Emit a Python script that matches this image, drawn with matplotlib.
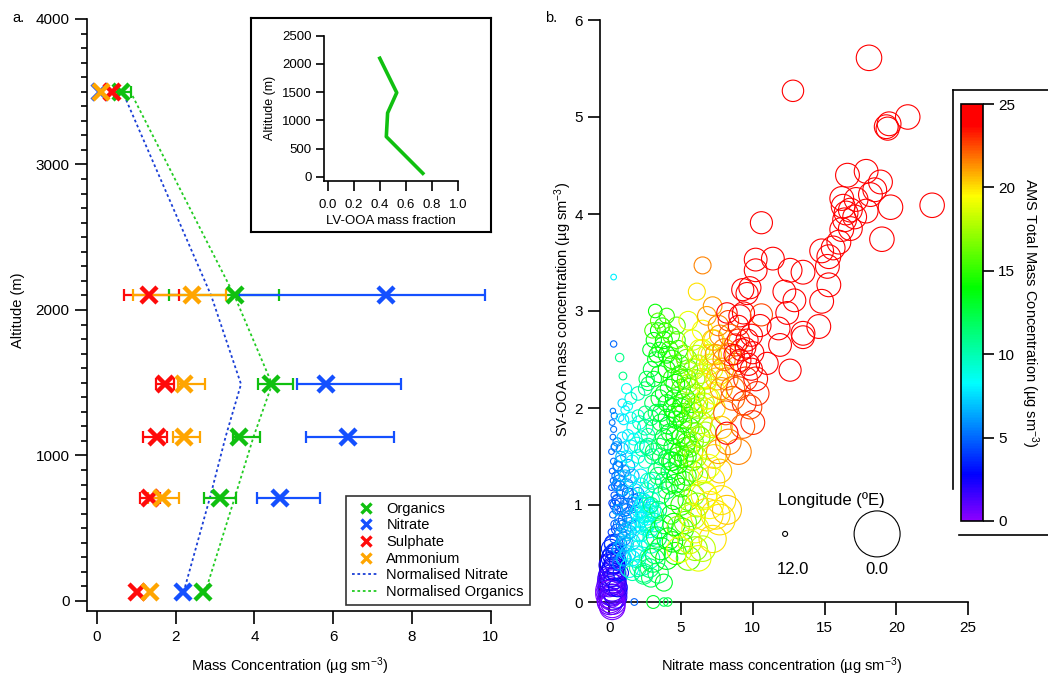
import numpy as np
import matplotlib
matplotlib.use('Agg')
import matplotlib.pyplot as plt
from matplotlib.colors import LinearSegmentedColormap, Normalize
from matplotlib.cm import ScalarMappable
from matplotlib.lines import Line2D

plt.rcParams['font.family'] = ['Liberation Sans', 'DejaVu Sans']
plt.rcParams['mathtext.default'] = 'regular'

W, H = 1048, 675

# ---- panel a: vertical profiles ----
alt = [60, 710, 1130, 1490, 2100, 3500]
organics = [2.70, 3.12, 3.60, 4.42, 3.51, 0.62]
organics_lo = [None, 2.72, 3.46, 4.10, 1.84, 0.42]
organics_hi = [None, 3.53, 4.14, 4.98, 4.62, 0.87]
nitrate = [2.18, 4.65, 6.38, 5.83, 7.35, 0.08]
nitrate_lo = [None, 4.06, 5.30, 5.07, 3.60, None]
nitrate_hi = [None, 5.66, 7.56, 7.73, 9.86, None]
sulphate = [1.02, 1.35, 1.52, 1.72, 1.33, 0.37]
sulphate_lo = [None, 1.10, 1.17, 1.51, 0.68, None]
sulphate_hi = [None, 1.60, 1.79, 1.95, 2.09, None]
ammonium = [1.34, 1.65, 2.22, 2.22, 2.41, 0.09]
ammonium_lo = [None, 1.30, 1.92, 2.05, 0.92, None]
ammonium_hi = [None, 2.09, 2.62, 2.75, 3.28, None]
norm_nitrate = [2.20, 2.87, 3.27, 3.66, 2.90, 0.65]
norm_organics = [2.75, 3.50, 3.98, 4.45, 3.49, 0.85]

# inset: LV-OOA fraction
lv_alt = [60, 710, 1130, 1490, 2100]
lv_frac = [0.73, 0.45, 0.46, 0.53, 0.40]

# ---- panel b: SV-OOA vs nitrate, coloured by AMS total, sized by longitude ----
nitrate_b = [
    # near origin
    0.05, 0.15, 0.25, 0.35, 0.10, 0.20, 0.30, 0.00, 0.15, 0.40,
    0.25, 0.10, 0.30, 0.45, 0.20,
    0.05, 0.15, 0.25, 0.10, 0.30, 0.00, 0.20, 0.40, 0.10, 0.25,
    0.05, 0.35, 0.15, 0.50, 0.60, 0.45, 0.20, 0.00, 0.30, 0.20,
    0.10, 0.60, 0.80, 0.35, 0.20,
    # blue fringe
    0.4, 0.6, 0.8, 1.0, 1.2, 0.5, 0.7, 0.9, 1.1, 1.4,
    0.4, 0.6, 0.8, 1.0, 1.3, 0.5, 0.7, 0.9, 1.2, 1.5,
    0.6, 0.8, 1.0, 1.3, 1.6, 0.5, 0.9, 1.8, 2.1, 1.4,
    # low-nitrate column
    0.20, 0.30, 0.15, 0.40, 0.25, 0.50, 0.20, 0.35, 0.15, 0.30,
    0.45, 0.20, 0.30, 0.15, 0.35, 0.25, 0.30, 0.20, 0.35, 0.25,
    0.55, 0.60, 0.70, 0.50, 0.30, 0.72, 0.95, 0.30, 1.74, 0.90,
    1.10, 0.75, 1.30,
    # cyan
    0.7, 1.0, 1.4, 1.9, 2.3, 2.8, 1.2, 1.6, 2.0, 2.5,
    3.0, 0.8, 1.2, 1.5, 1.9, 2.3, 2.6, 2.8, 2.4, 1.7,
    1.3, 2.0, 0.9, 0.7, 1.1, 1.5, 2.2, 2.7, 3.2, 0.8,
    1.2, 1.6, 2.0, 2.5, 3.0, 0.9, 1.3, 1.7, 2.2, 2.7,
    1.0, 1.5, 2.0, 0.5, 0.6, 1.0, 2.1, 2.6, 3.2, 2.9,
    2.2, 2.4, 2.6, 2.8, 3.0, 2.3, 2.5, 2.7, 2.9, 2.1,
    2.4, 2.6, 2.8, 2.2, 3.1,
    # teal
    1.6, 2.0, 2.4, 2.8, 3.2, 1.8, 2.2, 2.6, 3.0, 3.4,
    1.5, 1.9, 2.3, 2.7, 3.1, 1.7, 2.1, 2.5, 2.9, 3.3,
    1.5, 2.0, 2.5, 3.5, 1.2,
    2.6, 2.9, 3.2, 3.5, 3.8, 2.8, 3.1, 3.4, 3.7, 4.0,
    4.3, 4.8, 5.3, 5.8, 6.3, 4.6, 5.1, 5.6, 6.1, 6.6,
    4.4, 4.9, 5.4, 5.9, 6.4, 0.7, 1.0, 1.3, 1.6, 1.9,
    0.8, 1.1, 1.4, 1.7, 2.0, 6.9, 7.3, 7.7, 6.7, 7.1,
    # green
    3.05, 3.3, 3.6, 4.0, 4.4, 5.1, 3.8, 4.3, 3.4, 3.6,
    4.0, 4.5, 5.0, 5.5, 3.3, 3.7, 4.2, 4.7, 5.2, 3.5,
    3.9, 4.4, 4.9, 5.4, 3.1, 3.6, 4.1, 4.6, 5.1, 5.6,
    6.0, 3.0, 3.5, 4.0, 4.5, 5.0, 5.3, 5.7, 3.1, 3.5,
    4.0, 4.4, 4.9, 3.3, 3.7, 4.2, 4.7, 3.0, 3.4, 2.6,
    2.5, 2.7, 2.9, 2.4, 2.9, 3.8, 3.06, 3.8, 4.07, 5.3,
    5.8, 6.2, 5.9, 5.0, 5.5, 3.2, 5.3, 4.8,
    3.8, 4.2, 4.6, 5.0, 5.4, 5.8, 3.6, 4.0, 4.4, 4.8,
    5.2, 5.6, 3.8, 4.2, 4.6, 5.0, 5.4, 5.8, 3.6, 4.0,
    4.4, 4.8, 5.2, 5.6, 3.8, 4.2, 4.6, 5.0, 5.4, 4.0,
    4.4, 4.8, 5.2, 3.9, 4.3, 4.7, 4.5, 5.1, 5.6, 6.1,
    4.1, 4.6, 5.5, 6.0, 3.4,
    # yellow
    5.8, 6.2, 6.6, 7.0, 7.4, 6.0, 6.4, 6.8, 7.2, 7.6,
    5.9, 6.3, 6.7, 7.1, 6.1, 6.5, 6.9, 7.3, 6.6, 7.0,
    7.4, 7.8, 8.2, 7.2, 6.2,
    6.8, 7.7, 6.5, 6.0, 5.8, 4.9, 6.5, 7.1, 6.9, 6.4,
    6.8, 7.3, 7.5, 7.0, 6.3, 5.8, 6.5, 6.1, 5.5, 7.8,
    6.6, 7.6, 5.5, 6.0, 6.2, 6.0, 7.2, 5.6,
    # orange
    7.8, 8.2, 8.6, 9.0, 9.4, 8.0, 8.4, 8.8, 9.2, 9.6,
    7.7, 8.3, 9.1, 9.9, 10.2,
    6.5, 8.1, 8.6, 9.3, 9.8, 10.3, 8.8, 8.0, 7.6, 8.4,
    9.0, 7.9, 8.3, 9.0, 7.4, 10.6, 6.8, 7.2, 9.5, 10.0,
    # red
    8.2, 9.1, 10.0, 11.0, 9.5, 8.7, 9.9, 8.2, 9.0, 10.5,
    9.7,
    18.1, 12.8, 19.3, 19.5, 19.4, 20.8, 16.6, 17.9, 18.9, 18.5,
    18.2, 22.5, 16.2, 16.3, 16.8, 17.9, 17.1, 16.4, 16.8, 16.2,
    16.0, 14.8, 15.3, 15.2, 15.3, 14.8, 14.6, 13.5, 12.6, 13.5,
    11.4, 10.2, 10.2, 9.3, 9.6, 9.8, 12.2, 12.9, 12.4, 9.35,
    11.8, 11.9, 10.6, 19.0, 19.6, 17.2, 16.5, 15.6, 13.5, 12.6,
]
sv_ooa = [
    0.00, 0.10, 0.05, 0.18, 0.25, 0.30, 0.35, 0.12, 0.40, 0.10,
    0.48, 0.55, 0.60, 0.50, -0.05,
    0.02, 0.05, 0.00, 0.10, 0.12, 0.18, 0.20, 0.25, 0.28, 0.33,
    0.38, 0.40, 0.45, 0.30, 0.15, 0.05, -0.03, 0.08, 0.22, 0.15,
    0.22, 0.42, 0.30, 0.52, 0.60,
    0.50, 0.55, 0.60, 0.65, 0.60, 0.75, 0.80, 0.78, 0.85, 0.80,
    1.00, 1.05, 1.00, 0.95, 1.00, 1.20, 1.25, 1.15, 1.20, 1.10,
    1.40, 1.45, 1.35, 1.40, 1.30, 1.60, 1.58, 1.00, 1.05, 0.90,
    0.55, 0.65, 0.72, 0.80, 0.90, 0.95, 1.02, 1.10, 1.18, 1.25,
    1.30, 1.35, 1.45, 1.55, 1.60, 1.70, 1.78, 1.85, 1.92, 1.97,
    1.65, 1.40, 1.20, 1.05, 2.66, 2.52, 2.33, 3.35, 0.00, 2.05,
    1.98, 1.90, 2.02,
    0.55, 0.45, 0.35, 0.45, 0.38, 0.45, 0.70, 0.62, 0.70, 0.65,
    0.68, 0.85, 0.95, 0.88, 0.92, 0.95, 0.90, 0.98, 1.05, 1.05,
    1.12, 1.12, 1.15, 1.30, 1.30, 1.25, 1.30, 1.25, 1.20, 1.50,
    1.50, 1.45, 1.50, 1.45, 1.50, 1.70, 1.72, 1.68, 1.70, 1.72,
    1.88, 1.90, 1.92, 1.20, 0.95, 0.60, 0.55, 0.80, 0.90, 0.60,
    0.85, 0.90, 0.88, 0.92, 0.95, 1.00, 1.02, 1.00, 1.05, 0.95,
    0.78, 0.80, 0.75, 0.70, 0.82,
    0.30, 0.35, 0.28, 0.35, 0.50, 1.15, 1.20, 1.15, 1.25, 1.30,
    1.60, 1.62, 1.58, 1.60, 1.55, 1.80, 1.85, 1.80, 1.90, 1.95,
    2.10, 2.15, 2.20, 0.75, 2.20,
    2.30, 2.40, 2.50, 2.60, 2.70, 2.60, 2.70, 2.80, 2.85, 2.95,
    1.45, 1.50, 1.60, 1.55, 1.70, 1.95, 2.05, 1.90, 2.00, 2.05,
    2.30, 2.45, 2.50, 2.40, 2.30, 0.40, 0.45, 0.50, 0.45, 0.50,
    0.70, 0.75, 0.72, 0.78, 0.80, 1.40, 1.50, 1.35, 2.25, 2.55,
    0.43, 0.67, 0.55, 0.45, 0.62, 0.60, 0.80, 0.90, 0.95, 1.10,
    1.15, 1.05, 1.00, 1.05, 1.35, 1.40, 1.35, 1.30, 1.25, 1.60,
    1.65, 1.60, 1.55, 1.50, 1.80, 1.85, 1.82, 1.88, 1.85, 1.80,
    1.75, 2.05, 2.10, 2.05, 2.10, 2.00, 2.10, 2.05, 2.30, 2.35,
    2.40, 2.45, 2.35, 2.55, 2.65, 2.60, 2.70, 2.80, 2.90, 1.60,
    1.95, 2.25, 1.00, 0.30, 0.25, 0.20, 0.00, 0.00, 0.00, 1.70,
    1.45, 1.30, 1.10, 2.30, 2.40, 3.00, 0.82, 0.77,
    1.25, 1.20, 1.22, 1.18, 1.30, 1.35, 1.50, 1.48, 1.45, 1.42,
    1.48, 1.60, 1.70, 1.75, 1.72, 1.70, 1.65, 1.95, 1.95, 1.90,
    2.00, 1.92, 1.95, 2.20, 2.15, 2.20, 2.25, 2.20, 2.30, 2.55,
    2.50, 2.60, 2.55, 2.80, 2.75, 2.85, 0.80, 0.75, 0.90, 1.00,
    0.65, 0.50, 0.45, 0.55, 0.30,
    2.00, 2.05, 2.00, 2.10, 2.15, 2.30, 2.35, 2.30, 2.40, 2.35,
    1.65, 1.70, 1.75, 1.80, 2.55, 2.60, 2.55, 2.70, 1.10, 1.00,
    0.90, 1.05, 0.95, 0.65, 0.45,
    0.90, 0.85, 1.10, 0.75, 0.88, 0.54, 0.55, 1.25, 1.60, 1.85,
    2.10, 2.00, 2.30, 2.45, 2.60, 2.70, 2.80, 3.20, 2.90, 1.80,
    1.35, 1.55, 2.25, 2.15, 2.45, 1.50, 2.70, 0.62,
    2.20, 2.30, 2.10, 2.20, 2.05, 2.50, 2.55, 2.65, 2.60, 2.70,
    2.75, 2.90, 2.95, 2.40, 2.30,
    3.47, 1.95, 2.20, 1.81, 2.01, 2.15, 2.45, 2.60, 2.85, 2.75,
    2.70, 2.40, 1.65, 1.55, 2.55, 2.96, 2.95, 3.05, 2.30, 1.85,
    1.74, 2.49, 2.57, 2.46, 2.62, 2.55, 2.75, 2.98, 2.85, 2.85,
    2.45,
    5.61, 5.27, 4.90, 4.93, 4.88, 5.00, 4.40, 4.44, 4.33, 4.25,
    4.20, 4.09, 4.16, 4.08, 4.04, 4.03, 3.97, 3.94, 3.85, 3.84,
    3.71, 3.62, 3.56, 3.46, 3.27, 3.10, 2.84, 2.77, 3.42, 3.40,
    3.54, 3.53, 3.42, 3.22, 3.18, 3.24, 3.20, 3.11, 2.98, 2.98,
    2.82, 2.65, 3.91, 3.74, 4.07, 4.15, 4.01, 3.65, 2.73, 2.39,
]
ams_total = [
    0.8, 1.2, 1.0, 1.8, 2.0, 2.2, 2.6, 0.6, 2.8, 1.5,
    3.2, 3.5, 3.6, 3.4, 0.4,
    0.5, 0.8, 0.6, 1.0, 1.2, 1.0, 1.5, 2.0, 1.8, 2.5,
    2.2, 2.8, 3.0, 3.2, 2.8, 2.0, 0.3, 0.4, 1.6, 1.3,
    1.1, 3.5, 3.5, 3.8, 4.0,
    4.5, 5.0, 5.5, 6.0, 6.5, 4.5, 5.0, 5.5, 5.0, 6.0,
    4.5, 5.0, 4.8, 5.2, 5.5, 5.0, 5.2, 5.0, 5.5, 6.0,
    5.5, 6.0, 5.8, 6.0, 6.5, 6.0, 6.5, 5.0, 5.5, 5.0,
    4.0, 4.5, 4.2, 4.8, 5.0, 4.5, 4.3, 4.6, 4.2, 5.0,
    5.2, 4.8, 5.2, 5.0, 5.5, 5.2, 5.4, 5.3, 5.6, 5.5,
    5.8, 5.5, 5.2, 5.0, 5.0, 11.0, 11.0, 8.0, 5.0, 7.5,
    8.0, 7.5, 8.5,
    6.5, 7.0, 8.5, 9.0, 9.5, 10.0, 7.0, 7.5, 8.5, 9.0,
    10.0, 6.0, 5.5, 6.0, 7.5, 8.5, 8.5, 8.2, 8.0, 5.5,
    5.0, 6.0, 6.5, 6.0, 7.0, 7.5, 8.0, 9.0, 10.0, 7.0,
    8.0, 8.5, 9.0, 9.5, 10.5, 7.5, 8.0, 8.5, 9.0, 10.0,
    7.8, 8.5, 9.5, 6.0, 6.5, 7.0, 8.8, 8.7, 9.8, 9.5,
    8.2, 8.5, 8.3, 8.8, 9.2, 8.0, 8.5, 8.7, 9.5, 7.8,
    8.5, 8.8, 9.0, 8.2, 9.8,
    10.0, 10.5, 11.0, 11.5, 12.0, 7.5, 8.5, 9.5, 10.5, 11.5,
    8.0, 9.0, 10.0, 11.0, 12.0, 8.5, 9.5, 10.5, 11.5, 12.0,
    9.0, 10.0, 11.0, 12.5, 8.5,
    12.0, 12.5, 13.0, 13.5, 14.0, 13.0, 13.5, 14.0, 14.5, 15.0,
    13.5, 14.5, 15.5, 16.5, 17.5, 14.5, 15.5, 16.5, 17.0, 18.0,
    15.0, 15.5, 16.5, 17.5, 18.5, 5.5, 6.5, 7.5, 8.0, 8.5,
    6.0, 6.5, 7.0, 7.5, 8.0, 19.5, 20.0, 20.5, 19.0, 20.0,
    12.5, 12.0, 13.0, 13.5, 14.0, 14.5, 13.0, 13.5, 11.5, 11.0,
    12.0, 14.0, 15.0, 15.5, 11.0, 12.0, 13.0, 14.0, 15.0, 12.0,
    12.5, 13.5, 14.0, 15.0, 11.5, 12.5, 13.0, 13.5, 14.0, 15.0,
    16.0, 12.0, 13.0, 13.5, 14.0, 14.0, 14.5, 15.0, 13.0, 13.5,
    14.0, 14.5, 15.0, 14.0, 14.5, 15.0, 15.5, 15.5, 16.0, 10.5,
    11.0, 12.0, 11.0, 11.0, 12.0, 13.0, 13.0, 12.0, 12.5, 16.0,
    16.5, 17.0, 17.0, 15.5, 16.0, 14.0, 16.0, 17.0,
    12.0, 13.0, 13.5, 14.5, 15.0, 16.0, 12.0, 12.5, 13.5, 14.0,
    15.0, 15.5, 12.5, 13.0, 14.0, 14.5, 15.0, 16.0, 12.5, 13.0,
    14.0, 14.5, 15.0, 16.0, 13.0, 13.5, 14.0, 15.0, 15.5, 14.0,
    14.5, 15.0, 16.0, 15.0, 15.5, 16.0, 14.0, 15.5, 16.5, 17.0,
    13.5, 14.5, 16.0, 17.0, 12.0,
    17.0, 17.5, 18.0, 18.5, 19.5, 17.5, 18.0, 18.5, 19.0, 20.0,
    16.5, 17.0, 17.5, 18.5, 18.0, 18.5, 19.0, 20.0, 19.0, 19.5,
    20.0, 20.0, 20.5, 20.0, 19.0,
    20.0, 20.0, 19.5, 19.0, 18.5, 19.0, 18.0, 20.0, 19.0, 18.0,
    19.5, 20.0, 20.5, 20.0, 19.0, 18.5, 19.5, 20.0, 19.0, 20.5,
    18.5, 21.0, 17.5, 17.0, 18.0, 17.5, 20.5, 18.5,
    21.0, 21.5, 22.0, 22.5, 23.0, 21.5, 22.0, 23.0, 24.0, 24.5,
    21.0, 22.5, 24.0, 24.5, 23.5,
    21.5, 22.0, 22.0, 22.0, 22.5, 23.0, 22.5, 21.5, 21.5, 22.0,
    23.0, 21.0, 21.5, 21.5, 21.0, 22.5, 21.0, 21.0, 23.0, 23.0,
    25.0, 25.0, 25.0, 25.0, 24.5, 24.5, 24.5, 25.0, 24.0, 25.0,
    24.0,
    25.0, 25.0, 25.0, 25.0, 25.0, 25.0, 25.0, 25.0, 25.0, 25.0,
    25.0, 25.0, 25.0, 25.0, 25.0, 25.0, 25.0, 25.0, 25.0, 25.0,
    25.0, 25.0, 25.0, 25.0, 25.0, 25.0, 25.0, 25.0, 25.0, 25.0,
    25.0, 25.0, 25.0, 25.0, 25.0, 25.0, 25.0, 25.0, 25.0, 25.0,
    25.0, 25.0, 25.0, 25.0, 25.0, 25.0, 25.0, 25.0, 25.0, 25.0,
]
longitude = [
    6.0, 5.5, 6.0, 6.5, 6.0, 6.5, 7.0, 5.5, 7.0, 6.5,
    7.5, 8.0, 8.0, 8.0, 6.0,
    6.0, 5.8, 6.2, 6.0, 6.5, 6.3, 6.0, 7.0, 6.5, 7.0,
    7.0, 7.5, 7.5, 8.0, 8.0, 7.0, 6.0, 5.5, 6.2, 5.5,
    5.8, 8.5, 9.0, 8.5, 9.0,
    10.5, 10.0, 10.0, 9.5, 9.5, 10.5, 10.0, 10.0, 9.5, 9.5,
    10.5, 10.0, 9.5, 9.5, 9.5, 10.5, 10.0, 10.0, 9.5, 9.5,
    10.5, 10.0, 10.0, 9.5, 9.5, 10.5, 10.0, 9.0, 9.0, 9.0,
    11.0, 11.3, 11.5, 11.0, 11.5, 11.0, 11.5, 11.5, 11.8, 11.5,
    11.2, 11.8, 11.6, 11.8, 11.5, 11.8, 11.7, 11.8, 11.6, 11.9,
    11.0, 10.8, 10.5, 10.8, 11.6, 11.0, 11.2, 11.8, 11.5, 11.0,
    11.0, 11.2, 10.8,
    9.5, 9.0, 8.0, 8.0, 7.5, 7.5, 9.5, 9.0, 9.0, 8.5,
    8.0, 10.0, 10.0, 9.5, 9.5, 9.0, 9.0, 9.0, 9.5, 10.0,
    10.2, 10.0, 10.5, 10.5, 10.0, 10.0, 9.5, 9.0, 9.0, 10.5,
    10.0, 9.8, 9.5, 9.5, 9.0, 10.5, 10.2, 10.0, 9.8, 9.5,
    10.5, 10.2, 10.0, 10.5, 10.5, 9.0, 8.5, 9.0, 8.5, 8.0,
    9.0, 8.8, 8.5, 8.5, 8.5, 9.0, 8.8, 8.8, 8.5, 9.0,
    8.5, 8.5, 8.5, 9.0, 8.0,
    9.0, 8.5, 8.0, 8.0, 7.5, 9.5, 9.0, 9.0, 8.5, 8.5,
    9.5, 9.0, 9.0, 8.5, 8.5, 9.5, 9.5, 9.0, 9.0, 8.5,
    10.0, 9.5, 9.5, 8.0, 10.5,
    9.0, 9.0, 9.0, 9.0, 8.5, 9.5, 9.0, 9.0, 9.0, 9.0,
    8.0, 8.0, 8.0, 7.5, 7.5, 8.0, 8.0, 7.5, 7.5, 7.5,
    8.0, 8.0, 7.5, 7.5, 7.5, 9.5, 9.5, 9.0, 9.0, 9.0,
    10.0, 10.0, 9.5, 9.5, 9.5, 6.5, 6.5, 6.5, 7.5, 7.5,
    6.5, 7.5, 7.0, 7.0, 7.5, 7.5, 8.0, 8.0, 8.5, 8.5,
    8.5, 8.0, 7.5, 7.5, 8.5, 8.5, 8.5, 8.0, 8.0, 8.5,
    8.5, 8.5, 8.0, 8.0, 9.0, 8.5, 8.5, 8.5, 8.0, 8.0,
    8.0, 9.0, 8.5, 8.5, 8.5, 8.0, 8.0, 8.0, 9.0, 8.5,
    8.5, 8.5, 8.5, 9.0, 9.0, 8.5, 8.5, 9.0, 9.0, 9.5,
    9.5, 9.5, 9.0, 8.0, 8.0, 8.5, 9.7, 11.0, 11.0, 8.0,
    8.0, 8.0, 7.5, 8.0, 8.0, 9.5, 7.0, 7.0,
    8.5, 8.5, 8.0, 8.0, 8.0, 7.5, 8.5, 8.5, 8.0, 8.0,
    8.0, 7.5, 8.5, 8.5, 8.0, 8.0, 8.0, 7.5, 8.5, 8.5,
    8.0, 8.0, 8.0, 7.5, 8.5, 8.0, 8.0, 8.0, 8.0, 8.5,
    8.0, 8.0, 8.0, 9.0, 8.5, 8.5, 7.0, 7.0, 6.5, 6.5,
    7.0, 7.0, 6.5, 6.5, 7.5,
    8.0, 8.0, 7.5, 7.5, 7.0, 8.0, 8.0, 7.5, 7.5, 7.0,
    8.0, 7.5, 7.5, 7.5, 8.0, 7.5, 7.5, 7.5, 6.0, 5.5,
    5.0, 5.0, 5.0, 5.5, 6.0,
    4.0, 4.5, 5.0, 5.5, 6.0, 6.0, 6.0, 5.5, 6.5, 7.0,
    7.0, 7.0, 7.0, 7.5, 7.5, 7.5, 7.5, 8.5, 8.0, 7.0,
    6.5, 6.5, 8.0, 8.0, 8.0, 7.0, 7.5, 6.5,
    7.0, 7.0, 6.5, 6.5, 6.5, 7.0, 7.0, 7.0, 7.0, 7.0,
    7.5, 7.5, 7.0, 7.0, 6.5,
    8.5, 6.5, 6.5, 6.5, 6.5, 6.5, 7.0, 7.0, 7.5, 7.0,
    7.0, 7.0, 6.0, 6.0, 7.5, 7.0, 8.0, 8.0, 6.5, 6.5,
    7.0, 7.0, 7.0, 7.0, 7.5, 7.5, 7.0, 7.5, 7.5, 7.0,
    7.0,
    6.0, 7.2, 6.5, 6.5, 6.7, 6.3, 6.5, 6.5, 6.5, 6.5,
    6.5, 6.3, 6.5, 6.5, 6.5, 6.5, 6.5, 6.5, 6.5, 6.5,
    6.5, 6.5, 6.5, 6.5, 6.5, 6.5, 6.5, 6.5, 6.5, 6.5,
    6.8, 6.8, 6.8, 7.0, 7.0, 7.0, 6.8, 6.8, 6.8, 7.0,
    6.8, 6.8, 7.0, 6.3, 6.3, 6.5, 6.5, 6.5, 6.8, 7.0,
]

cbar_ticks = [0, 5, 10, 15, 20, 25]
lon_key = [12.0, 0.0]


def box(l, t, r, b):
    return [l / W, 1 - b / H, (r - l) / W, (b - t) / H]


def marker_area(lon):
    # circle diameter in px grows as longitude goes west
    d = 5 + (12 - np.asarray(lon, float)) * 41 / 12
    return (d * 0.72) ** 2


def igor_axes(ax, lw=1.2):
    for s in ('top', 'right'):
        ax.spines[s].set_visible(False)
    for s in ('left', 'bottom'):
        ax.spines[s].set_linewidth(lw)
    ax.tick_params(direction='out', width=lw, colors='black')


rainbow = LinearSegmentedColormap.from_list('igor_rainbow', [
    (0.00, (0.55, 0.0, 1.0)),
    (0.11, (0.0, 0.0, 1.0)),
    (0.33, (0.0, 1.0, 1.0)),
    (0.56, (0.0, 1.0, 0.0)),
    (0.78, (1.0, 1.0, 0.0)),
    (0.95, (1.0, 0.0, 0.0)),
    (1.00, (1.0, 0.0, 0.0)),
])
cnorm = Normalize(0, 25)
label_size = 10.5

fig = plt.figure(figsize=(W / 100, H / 100), dpi=100)

# ---------------- panel a ----------------
ax = fig.add_axes(box(87, 19, 490.5, 611))
igor_axes(ax)
ax.set_xlim(-0.254, 10)
ax.set_ylim(-69, 4000)
ax.set_xticks(range(0, 11, 2))
ax.set_yticks(range(0, 4001, 1000))
ax.set_yticks(range(0, 4001, 100), minor=True)
ax.tick_params(which='major', length=9, labelsize=11)
ax.tick_params(axis='x', pad=5)
ax.tick_params(which='minor', axis='y', length=4.5, width=1.2)

green, blue, red, orange = '#10c010', '#1450ff', '#ff0a0a', '#ffa500'
series = [
    ('Organics', organics, organics_lo, organics_hi, green),
    ('Nitrate', nitrate, nitrate_lo, nitrate_hi, blue),
    ('Sulphate', sulphate, sulphate_lo, sulphate_hi, red),
    ('Ammonium', ammonium, ammonium_lo, ammonium_hi, orange),
]
dots = (0, (1.5, 1.5))
ax.plot(norm_nitrate, alt, ls=dots, color='#1a3fd6', lw=1.3, zorder=2)
ax.plot(norm_organics, alt, ls=dots, color='#22cc22', lw=1.3, zorder=2)
for z, (name, vals, lo, hi, col) in enumerate(series):
    for v, a, l, h in zip(vals, alt, lo, hi):
        if l is None:
            continue
        ax.errorbar(v, a, xerr=[[v - l], [h - v]], fmt='none', ecolor=col,
                    elinewidth=1.6, capsize=4, capthick=1.6, zorder=3 + z * 0.1)
for name, vals, lo, hi, col in series:
    ax.plot(vals, alt, 'x', color=col, ms=11, mew=3.2, ls='none', zorder=5)

handles = [Line2D([], [], marker='x', color=c, ls='none', ms=7, mew=2.4)
           for _, _, _, _, c in series]
handles += [Line2D([], [], color='#1a3fd6', ls=dots, lw=1.3),
            Line2D([], [], color='#22cc22', ls=dots, lw=1.3)]
labels = [s[0] for s in series] + ['Normalised Nitrate', 'Normalised Organics']
leg = ax.legend(handles, labels, loc='lower right',
                bbox_to_anchor=(530 / W, 1 - 605 / H), bbox_transform=fig.transFigure,
                borderaxespad=0, fontsize=10.5, frameon=True, fancybox=False,
                edgecolor='black', labelspacing=0.18, handlelength=1.85,
                handletextpad=0.5, borderpad=0.42)
leg.get_frame().set_linewidth(1.2)

fig.text(290 / W, 1 - 666 / H, 'Mass Concentration (µg sm$^{-3}$)',
         ha='center', va='center', fontsize=label_size)
fig.text(18 / W, 1 - 310 / H, 'Altitude (m)', rotation=90,
         ha='center', va='center', fontsize=label_size)
fig.text(12 / W, 1 - 18 / H, 'a.', ha='left', va='center', fontsize=10.5)

# inset with frame
frame = fig.add_axes(box(251, 18, 491, 232))
frame.set_xticks([])
frame.set_yticks([])
for s in frame.spines.values():
    s.set_linewidth(1.5)
ins = fig.add_axes(box(324, 35.7, 458, 181))
igor_axes(ins, lw=1.2)
ins.patch.set_alpha(0)
ins.plot(lv_frac, lv_alt, color='#10c010', lw=2.6)
ins.set_xlim(-0.028, 1.0)
ins.set_ylim(-76, 2500)
ins.set_xticks(np.arange(0, 1.01, 0.2))
ins.set_xticklabels([f'{v:.1f}' for v in np.arange(0, 1.01, 0.2)])
ins.set_yticks(range(0, 2501, 500))
ins.tick_params(length=6, labelsize=9.5, pad=3)
ins.tick_params(axis='x', length=7, pad=6)
ins.set_xlabel('LV-OOA mass fraction', fontsize=9.5, labelpad=3)
ins.set_ylabel('Altitude (m)', fontsize=9, labelpad=4)

# ---------------- panel b ----------------
bx = fig.add_axes(box(600, 20, 968, 602))
igor_axes(bx)
bx.set_xlim(-0.65, 25)
bx.set_ylim(0, 6)
bx.set_xticks(range(0, 26, 5))
bx.set_yticks(range(0, 7))
bx.tick_params(length=9, labelsize=11)
bx.tick_params(axis='x', pad=5)
bx.scatter(nitrate_b, sv_ooa, s=marker_area(longitude), facecolors='none',
           edgecolors=rainbow(cnorm(np.array(ams_total))), linewidths=0.8,
           clip_on=False, zorder=3)

fig.text(782 / W, 1 - 666 / H, 'Nitrate mass concentration (µg sm$^{-3}$)',
         ha='center', va='center', fontsize=label_size)
fig.text(563 / W, 1 - 310 / H, 'SV-OOA mass concentration (µg sm$^{-3}$)',
         rotation=90, ha='center', va='center', fontsize=label_size)
fig.text(545 / W, 1 - 18 / H, 'b.', ha='left', va='center', fontsize=10.5)

# longitude size key
bx.scatter([0.503, 0.753], [0.117, 0.117], s=marker_area(lon_key),
           facecolors='none', edgecolors='black', linewidths=0.8,
           transform=bx.transAxes, clip_on=False)
bx.text(0.63, 0.175, 'Longitude (ºE)', transform=bx.transAxes,
        ha='center', va='center', fontsize=12)
for xk, lon in zip([0.525, 0.753], lon_key):
    bx.text(xk, 0.055, f'{lon:.1f}', transform=bx.transAxes,
            ha='center', va='center', fontsize=12)

# colour scale
cax = fig.add_axes(box(961, 104, 983, 521))
cb = fig.colorbar(ScalarMappable(cnorm, rainbow), cax=cax)
cb.set_ticks(cbar_ticks)
cb.outline.set_linewidth(1.2)
cax.tick_params(length=8, width=1.2, labelsize=11, pad=3)
fig.text(1030 / W, 1 - 313 / H, 'AMS Total Mass Concentration (µg sm$^{-3}$)',
         rotation=-90, ha='center', va='center', fontsize=label_size)
for xs, ys in [([953, 953], [90, 489]), ([953, 1048], [90, 90]), ([959, 1048], [535, 535])]:
    fig.add_artist(Line2D([x / W for x in xs], [1 - y / H for y in ys],
                          color='black', lw=1.2, transform=fig.transFigure))

fig.savefig('out.png', dpi=100)
